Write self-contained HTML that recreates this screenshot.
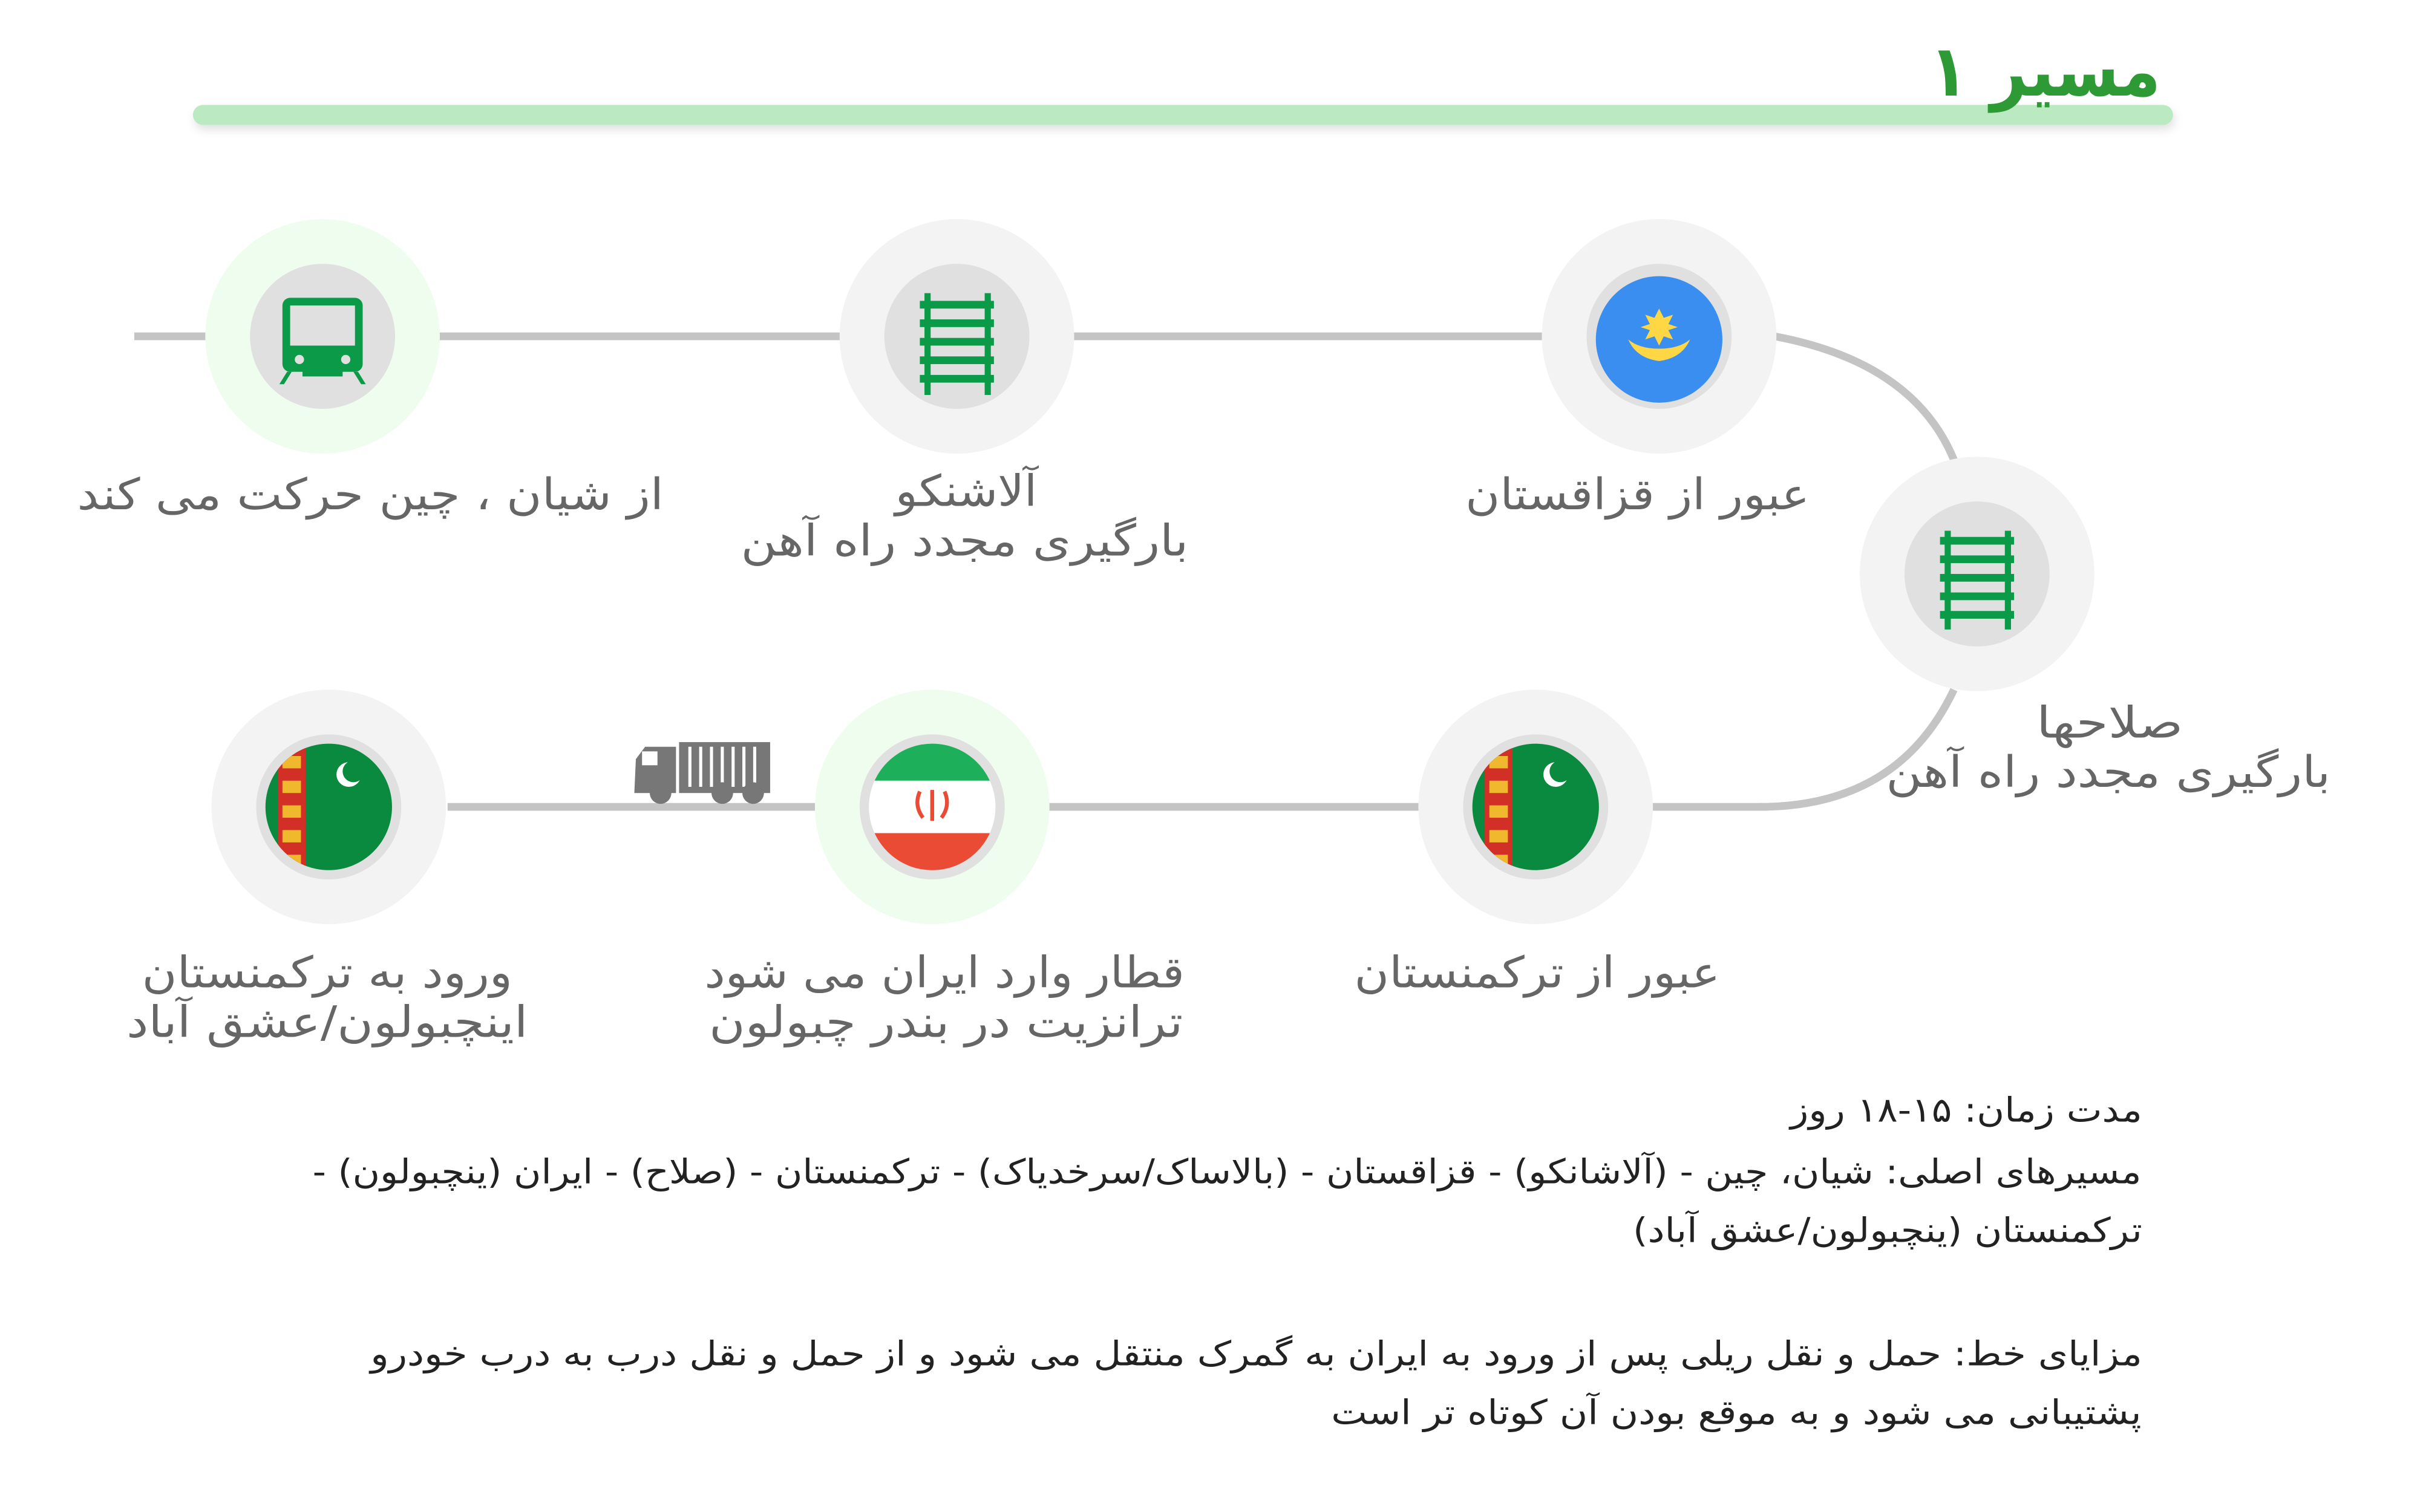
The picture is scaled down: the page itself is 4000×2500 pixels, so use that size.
<!DOCTYPE html>
<html><head><meta charset="utf-8"><style>
html,body{margin:0;padding:0;background:#fff;}
svg{display:block;}
text{font-family:"DejaVu Sans",sans-serif;}
</style></head><body>
<svg width="4000" height="2500" viewBox="0 0 1568 980" preserveAspectRatio="none" xmlns="http://www.w3.org/2000/svg">
<defs>
<filter id="sh" x="-5%" y="-50%" width="110%" height="250%"><feDropShadow dx="1" dy="3" stdDeviation="3" flood-color="#000" flood-opacity="0.12"/></filter>
<clipPath id="c5"><circle cx="995" cy="523" r="41"/></clipPath>
<clipPath id="c7"><circle cx="213" cy="523" r="41"/></clipPath>
<clipPath id="c6"><circle cx="604" cy="523" r="41"/></clipPath>
</defs>
<!-- title -->
<rect x="125" y="68" width="1283" height="13" rx="6.5" fill="#bbe9c1" filter="url(#sh)"/>
<text x="1325" y="62" font-size="46" font-weight="bold" fill="#2e9a36" text-anchor="middle" direction="rtl" textLength="150" lengthAdjust="spacingAndGlyphs">مسیر ۱</text>
<!-- connectors -->
<g stroke="#c4c4c4" stroke-width="5" fill="none">
<line x1="87" y1="218" x2="1000" y2="218"/>
<path d="M1150 218 Q1240 235 1266 298"/>
<path d="M1266 447 Q1230 523 1140 523"/>
<line x1="290" y1="523" x2="1142" y2="523"/>
</g>
<!-- nodes outer -->
<circle cx="209" cy="218" r="76" fill="#effdef"/>
<circle cx="620" cy="218" r="76" fill="#f3f3f3"/>
<circle cx="1075" cy="218" r="76" fill="#f3f3f3"/>
<circle cx="1281" cy="372" r="76" fill="#f3f3f3"/>
<circle cx="995" cy="523" r="76" fill="#f3f3f3"/>
<circle cx="604" cy="523" r="76" fill="#effdef"/>
<circle cx="213" cy="523" r="76" fill="#f3f3f3"/>
<g fill="#e0e0e0">
<circle cx="209" cy="218" r="47"/><circle cx="620" cy="218" r="47"/><circle cx="1075" cy="218" r="47"/>
<circle cx="1281" cy="372" r="47"/><circle cx="995" cy="523" r="47"/><circle cx="604" cy="523" r="47"/><circle cx="213" cy="523" r="47"/>
</g>
<!-- train icon -->
<g fill="#0a9a48">
<rect x="183" y="193" width="52" height="48" rx="5"/>
<rect x="188" y="198" width="42" height="26" fill="#e0e0e0"/>
<circle cx="194" cy="233" r="3" fill="#e0e0e0"/><circle cx="224" cy="233" r="3" fill="#e0e0e0"/>
<rect x="196" y="240" width="26" height="4"/>
<path d="M186 241 L181 249 L184 249 L189 241Z M232 241 L237 249 L234 249 L229 241Z"/>
</g>
<!-- rails -->
<g fill="#0a9a48">
<rect x="599" y="190" width="4" height="66"/><rect x="638" y="190" width="4" height="66"/>
<rect x="596" y="195" width="48" height="5"/><rect x="596" y="207" width="48" height="5"/><rect x="596" y="219" width="48" height="5"/><rect x="596" y="231" width="48" height="5"/><rect x="596" y="243" width="48" height="5"/>
</g>
<g fill="#0a9a48">
<rect x="1260" y="344" width="4" height="64"/><rect x="1299" y="344" width="4" height="64"/>
<rect x="1257" y="348" width="48" height="5"/><rect x="1257" y="360" width="48" height="5"/><rect x="1257" y="372" width="48" height="5"/><rect x="1257" y="384" width="48" height="5"/><rect x="1257" y="396" width="48" height="5"/>
</g>
<!-- kazakh -->
<circle cx="1075" cy="220" r="41" fill="#3a8ef0"/>
<circle cx="1075" cy="212" r="6" fill="#ffd644"/>
<path d="M1075 200 L1078 206 L1084 204 L1081 210 L1087 212 L1081 214 L1084 220 L1078 218 L1075 224 L1072 218 L1066 220 L1069 214 L1063 212 L1069 210 L1066 204 L1072 206Z" fill="#ffd644"/>
<path d="M1055 220 Q1060 232 1075 234 Q1090 232 1095 220 Q1088 226 1075 226 Q1062 226 1055 220Z" fill="#ffd644"/>
<!-- turkmen flags -->
<g clip-path="url(#c5)">
<rect x="950" y="480" width="90" height="90" fill="#0a8a3e"/>
<rect x="962" y="480" width="18" height="90" fill="#d22f27"/>
<g fill="#f0b92d"><rect x="965" y="490" width="12" height="8"/><rect x="965" y="506" width="12" height="8"/><rect x="965" y="522" width="12" height="8"/><rect x="965" y="538" width="12" height="8"/><rect x="965" y="554" width="12" height="8"/></g>
<circle cx="1008" cy="502" r="8" fill="#fff"/><circle cx="1011" cy="500" r="7" fill="#0a8a3e"/>
</g>
<g clip-path="url(#c7)">
<rect x="168" y="480" width="90" height="90" fill="#0a8a3e"/>
<rect x="180" y="480" width="18" height="90" fill="#d22f27"/>
<g fill="#f0b92d"><rect x="183" y="490" width="12" height="8"/><rect x="183" y="506" width="12" height="8"/><rect x="183" y="522" width="12" height="8"/><rect x="183" y="538" width="12" height="8"/><rect x="183" y="554" width="12" height="8"/></g>
<circle cx="226" cy="502" r="8" fill="#fff"/><circle cx="229" cy="500" r="7" fill="#0a8a3e"/>
</g>
<!-- iran -->
<g clip-path="url(#c6)">
<rect x="560" y="480" width="90" height="26" fill="#1eaf5a"/>
<rect x="560" y="506" width="90" height="34" fill="#fff"/>
<rect x="560" y="540" width="90" height="30" fill="#e94b35"/>
<path d="M596 513 Q592 522 598 530 M612 513 Q616 522 610 530 M604 512 L604 532" stroke="#e94b35" stroke-width="2.5" fill="none"/>
</g>
<!-- truck -->
<g fill="#777">
<rect x="440" y="481" width="59" height="33"/>
<g fill="#fff"><rect x="446" y="484" width="2" height="26"/><rect x="453" y="484" width="2" height="26"/><rect x="460" y="484" width="2" height="26"/><rect x="467" y="484" width="2" height="26"/><rect x="474" y="484" width="2" height="26"/><rect x="481" y="484" width="2" height="26"/><rect x="488" y="484" width="2" height="26"/></g>
<path d="M412 492 L418 484 L438 484 L438 514 L411 514Z"/>
<rect x="416" y="487" width="10" height="9" fill="#fff"/>
<circle cx="428" cy="514" r="7"/><circle cx="468" cy="514" r="7"/><circle cx="488" cy="514" r="7"/>
</g>
<!-- labels -->
<g fill="#666" font-size="28" text-anchor="middle" direction="rtl">
<text x="240" y="330" textLength="380" lengthAdjust="spacingAndGlyphs">از شیان ، چین حرکت می کند</text>
<text x="626" y="328" textLength="92" lengthAdjust="spacingAndGlyphs">آلاشنکو</text>
<text x="625" y="360" textLength="290" lengthAdjust="spacingAndGlyphs">بارگیری مجدد راه آهن</text>
<text x="1061" y="330" textLength="223" lengthAdjust="spacingAndGlyphs">عبور از قزاقستان</text>
<text x="1367" y="478" textLength="95" lengthAdjust="spacingAndGlyphs">صلاحها</text>
<text x="1366" y="510" textLength="288" lengthAdjust="spacingAndGlyphs">بارگیری مجدد راه آهن</text>
<text x="996" y="640" textLength="237" lengthAdjust="spacingAndGlyphs">عبور از ترکمنستان</text>
<text x="612" y="640" textLength="311" lengthAdjust="spacingAndGlyphs">قطار وارد ایران می شود</text>
<text x="613" y="672" textLength="307" lengthAdjust="spacingAndGlyphs">ترانزیت در بندر چبولون</text>
<text x="212" y="640" textLength="240" lengthAdjust="spacingAndGlyphs">ورود به ترکمنستان</text>
<text x="212" y="672" textLength="260" lengthAdjust="spacingAndGlyphs">اینچبولون/عشق آباد</text>
</g>
<!-- bottom text -->
<g fill="#222" font-size="22" text-anchor="middle" direction="rtl">
<text x="1274" y="727" textLength="228" lengthAdjust="spacingAndGlyphs">مدت زمان: ۱۵-۱۸ روز</text>
<text x="795" y="767" textLength="1185" lengthAdjust="spacingAndGlyphs">مسیرهای اصلی: شیان، چین - (آلاشانکو) - قزاقستان - (بالاساک/سرخدیاک) - ترکمنستان - (صلاح) - ایران (ینچبولون) -</text>
<text x="1223" y="805" textLength="330" lengthAdjust="spacingAndGlyphs">ترکمنستان (ینچبولون/عشق آباد)</text>
<text x="814" y="885" textLength="1148" lengthAdjust="spacingAndGlyphs">مزایای خط: حمل و نقل ریلی پس از ورود به ایران به گمرک منتقل می شود و از حمل و نقل درب به درب خودرو</text>
<text x="1125" y="923" textLength="525" lengthAdjust="spacingAndGlyphs">پشتیبانی می شود و به موقع بودن آن کوتاه تر است</text>
</g>
</svg>
</body></html>
